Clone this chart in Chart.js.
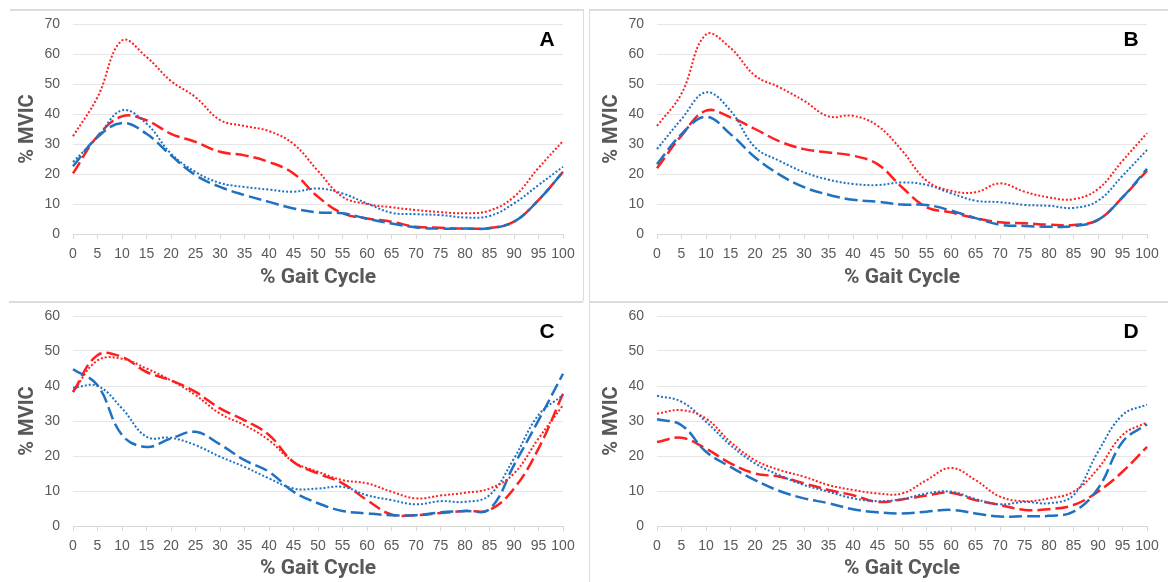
<!DOCTYPE html>
<html>
<head>
<meta charset="utf-8">
<script src="https://cdn.jsdelivr.net/npm/chart.js@4.4.1/dist/chart.umd.min.js"></script>
<style>
  body { margin: 0; background: #fff; }
  #wrap { position: relative; width: 1168px; height: 582px; overflow: hidden; }
  canvas { position: absolute; }
  .ln { position: absolute; background: #dcdcdc; }
</style>
</head>
<body>
<div id="wrap">
  <canvas id="chartA" width="584" height="291" style="left:0;top:0"></canvas>
  <canvas id="chartB" width="584" height="291" style="left:584px;top:0"></canvas>
  <canvas id="chartC" width="584" height="291" style="left:0;top:291px"></canvas>
  <canvas id="chartD" width="584" height="291" style="left:584px;top:291px"></canvas>
  <div class="ln" style="left:10px;top:9px;width:573px;height:2px"></div>
  <div class="ln" style="left:583px;top:9px;width:1px;height:292px"></div>
  <div class="ln" style="left:589px;top:9px;width:579px;height:2px"></div>
  <div class="ln" style="left:589px;top:9px;width:1px;height:292px"></div>
  <div class="ln" style="left:9px;top:301px;width:574px;height:2px"></div>
  <div class="ln" style="left:589px;top:301px;width:579px;height:2px"></div>
  <div class="ln" style="left:589px;top:301px;width:1px;height:281px"></div>
</div>
<script>
// % gait cycle, every 5 %
const gait = [0, 5, 10, 15, 20, 25, 30, 35, 40, 45, 50, 55, 60, 65, 70, 75, 80, 85, 90, 95, 100];

// panel A
const aRedDot   = [32.6, 45.6, 64.5, 59, 51, 45.6, 38, 36, 34.3, 30, 21, 12.4, 10, 8.9, 8, 7.3, 6.9, 7.8, 12.4, 22, 31];
const aRedDash  = [20.2, 32.6, 39.2, 37.9, 33.4, 30.7, 27.4, 26.2, 24, 20.2, 12.4, 6.9, 5.2, 4.1, 2.4, 2.1, 1.8, 2, 4.1, 11.3, 20.7];
const aBlueDot  = [24, 32.3, 41.2, 36.8, 26.8, 20.7, 17, 15.7, 14.8, 14.1, 15.2, 13.5, 10.2, 7.1, 6.6, 6.3, 5.5, 6, 10.2, 16.3, 22.4];
const aBlueDash = [22.6, 32.3, 37, 33.4, 26.2, 19.6, 15.7, 13, 10.7, 8.5, 7.2, 6.9, 5.1, 3.5, 2.2, 1.8, 1.8, 1.9, 4.1, 11.3, 20.7];

// panel B
const bRedDot   = [36, 46.8, 66.5, 62, 52.8, 48.9, 44.4, 39.2, 39.4, 36.1, 27.8, 17.8, 14.4, 13.9, 16.9, 14.1, 12.2, 11.6, 15, 24.4, 33.6];
const bRedDash  = [21.9, 32.8, 41.1, 38.9, 35, 30.9, 28.3, 27.2, 26.1, 23.3, 15.6, 8.9, 7.2, 5.3, 3.9, 3.6, 3.1, 3, 4.7, 12.2, 21.1];
const bBlueDot  = [28.3, 38.3, 47.2, 41.1, 28.9, 24.4, 20.6, 18.1, 16.7, 16.3, 17.2, 16.4, 13.6, 11.1, 10.6, 9.7, 9.4, 8.7, 11.1, 19.4, 28];
const bBlueDash = [23.3, 33.3, 39.1, 33.3, 25.6, 19.8, 15.6, 13.1, 11.4, 10.8, 9.8, 9.7, 7.8, 5.3, 3.1, 2.7, 2.4, 2.6, 4.7, 12.2, 21.7];

// panel C
const cRedDot   = [38.3, 47.3, 47.8, 45, 41.6, 37.4, 32.1, 28.8, 24.5, 18.3, 15.5, 13.1, 12.2, 9.8, 7.9, 8.7, 9.5, 10.7, 15, 25, 34.5];
const cRedDash  = [38.3, 48.8, 48.3, 44, 41.6, 38.3, 33.6, 30.2, 26, 18.3, 15, 12.2, 7.4, 3.3, 3.1, 3.7, 4.3, 4.6, 10.7, 22.1, 37.8];
const cBlueDot  = [39.5, 40, 33.6, 25.5, 25.2, 23.1, 19.8, 16.9, 13.6, 10.7, 10.7, 11.2, 8.8, 7.4, 6.2, 7.1, 6.9, 8.8, 19.3, 31.7, 37.4];
const cBlueDash = [44.8, 40.2, 26, 22.6, 25, 26.9, 23.3, 18.8, 15.5, 9.8, 6.5, 4.3, 3.6, 3.1, 3.1, 3.9, 4.3, 4.8, 17.4, 30.2, 43.5];

// panel D
const dRedDot   = [32.1, 33.1, 30.7, 24, 18.8, 16, 14.1, 11.7, 10.3, 9.3, 9.3, 13.1, 16.6, 13.1, 8.4, 7.1, 7.9, 9.8, 16.4, 26, 29.6];
const dRedDash  = [24, 25.2, 22.1, 17.9, 15, 14.1, 12.2, 10.3, 8.8, 6.9, 7.6, 8.7, 9.5, 7.4, 6, 4.6, 4.8, 6, 9.8, 15.5, 22.6];
const dBlueDot  = [37.2, 35.5, 29.8, 23.1, 17.9, 14.5, 11.7, 9.8, 7.9, 7.1, 7.7, 9.3, 9.8, 7.7, 6.2, 6.9, 6.5, 8.8, 21.2, 31.7, 34.7];
const dBlueDash = [30.5, 28.8, 21.2, 16.9, 13.1, 10, 7.9, 6.5, 4.8, 3.9, 3.6, 4.1, 4.6, 3.6, 2.7, 2.8, 2.9, 4.1, 10.7, 24, 29.1];

const RED = "#ff1f1f";
const BLUE = "#1f71c2";
const GREY = "#595959";
const TICK_FONT = "'Liberation Sans', Arial, sans-serif";
const TITLE_FONT = "Roboto, 'Liberation Sans', Arial, sans-serif";

function line(data, color, dotted) {
    return {
        data: data,
        borderColor: color,
        borderWidth: dotted ? 2 : 2.5,
        borderDash: dotted ? [2, 2] : [13, 5],
        pointRadius: 0,
        tension: 0.4,
        fill: false
    };
}

// panel letter in the top right corner of the plot
const letterPlugin = {
    id: "letter",
    afterDraw(chart, args, opts) {
        const c = chart.ctx;
        const a = chart.chartArea;
        c.save();
        c.font = "bold 21px 'Liberation Sans', Arial, sans-serif";
        c.fillStyle = "#000";
        c.textAlign = "center";
        c.textBaseline = "middle";
        c.fillText(opts.text, a.right - 16, a.top + 16);
        c.restore();
    }
};

function makePanel(id, letter, yMax, top, redDot, redDash, blueDot, blueDash) {
    new Chart(document.getElementById(id), {
        type: "line",
        data: {
            labels: gait,
            datasets: [
                line(redDot, RED, true),
                line(blueDot, BLUE, true),
                line(blueDash, BLUE, false),
                line(redDash, RED, false)
            ]
        },
        plugins: [letterPlugin],
        options: {
            responsive: false,
            animation: false,
            devicePixelRatio: 1,
            layout: { padding: { left: 0, right: 21, top: top, bottom: 0 } },
            plugins: {
                legend: { display: false },
                tooltip: { enabled: false },
                letter: { text: letter }
            },
            scales: {
                x: {
                    offset: false,
                    grid: { drawOnChartArea: false, drawTicks: true, tickLength: 5, color: "#d9d9d9" },
                    border: { display: true, color: "#d9d9d9", width: 1 },
                    ticks: { color: GREY, font: { family: TICK_FONT, size: 14 }, padding: 7, maxRotation: 0, autoSkip: false },
                    title: { display: true, text: "% Gait Cycle", color: GREY, font: { family: TITLE_FONT, size: 21, weight: "bold" }, padding: { top: 0, bottom: 1 } },
                    afterFit: s => { s.height = 291 - top - 210; }
                },
                y: {
                    min: 0,
                    max: yMax,
                    ticks: { stepSize: 10, color: GREY, font: { family: TICK_FONT, size: 14 }, padding: 13 },
                    grid: { color: "#e6e6e6", drawTicks: false },
                    border: { display: false },
                    title: { display: true, text: "% MVIC", color: GREY, font: { family: TITLE_FONT, size: 20, weight: "bold" }, padding: { top: 16, bottom: 0 } },
                    afterFit: s => { s.width = 73; }
                }
            }
        }
    });
}

makePanel("chartA", "A", 70, 24, aRedDot, aRedDash, aBlueDot, aBlueDash);
makePanel("chartB", "B", 70, 24, bRedDot, bRedDash, bBlueDot, bBlueDash);
makePanel("chartC", "C", 60, 25, cRedDot, cRedDash, cBlueDot, cBlueDash);
makePanel("chartD", "D", 60, 25, dRedDot, dRedDash, dBlueDot, dBlueDash);
</script>
</body>
</html>
